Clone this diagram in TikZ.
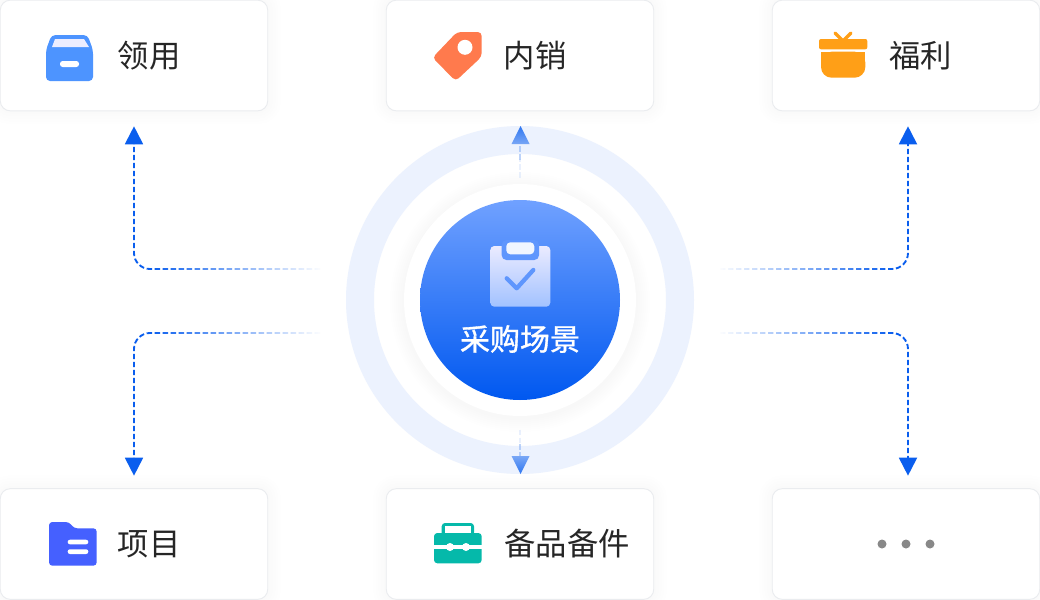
\documentclass[tikz,border=0pt]{standalone}
\usepackage{fontspec}
\setmainfont{Noto Sans CJK SC}
\usetikzlibrary{arrows.meta, fadings}
\definecolor{linkblue}{HTML}{0A5EEE}
\definecolor{ringblue}{HTML}{ECF2FE}
\definecolor{cardline}{HTML}{EAECEF}
\definecolor{labelgray}{HTML}{262626}
\definecolor{HubTop}{HTML}{70A1FF}
\definecolor{HubBot}{HTML}{0058F0}
\definecolor{HubClip}{HTML}{5F96FD}
\definecolor{IconBox}{HTML}{4D94FF}
\definecolor{IconTag}{HTML}{FF7A4D}
\definecolor{IconGift}{HTML}{FF9F17}
\definecolor{IconFolder}{HTML}{4560FF}
\definecolor{IconTool}{HTML}{05B9AA}
\definecolor{DotGray}{HTML}{888888}
\tikzfading[name=fadeleft, left color=transparent!100, right color=transparent!0]
\tikzfading[name=faderight, left color=transparent!0, right color=transparent!100]
\tikzset{softedge/.style = {preaction={draw=black,draw opacity=.005,line width=#1}}}
\tikzset{cardbox/.style = {rectangle, rounded corners=7.5pt, fill=white, draw=cardline, line width=.7pt,
  minimum width=200.6pt, minimum height=83pt, inner sep=0pt,
  softedge=4pt, softedge=8pt, softedge=12pt, softedge=16pt, softedge=20pt}}
\tikzset{cardtext/.style = {text=labelgray, font=\fontsize{23.5}{26}\selectfont, inner sep=0pt}}
\tikzset{linkline/.style = {linkblue, line width=1.4pt, dash pattern=on 4pt off 2pt, rounded corners=12pt,
  -{Triangle[width=13.5pt,length=13.5pt]}}}
\tikzset{hubdash/.style = {color=linkblue!45!white, line width=1.4pt, dash pattern=on 4pt off 2pt}}
\begin{document}
\begin{tikzpicture}[x=.75pt,y=-.75pt]
\useasboundingbox (0,0) rectangle (1040,600);
\fill[white] (0,0) rectangle (1040,600);

% ring and hub
\draw[ringblue, line width=21pt] (520,300) circle (160);
\foreach \r in {2,4,...,14}
  \fill[black, opacity=.002] (520,302) circle (116+\r);
\fill[white] (520,300) circle (116);
\node[circle, minimum size=150pt, inner sep=0pt, top color=HubTop, bottom color=HubBot] (hub) at (520,300) {};

% clipboard
\shade[top color=white!92!blue, bottom color=white!35!HubTop, rounded corners=3pt] (490.3,246) rectangle (550.3,306.7);
\fill[HubClip, rounded corners=3.5pt] (501.7,240) rectangle (539,260);
\fill[white!90!HubTop, rounded corners=3pt] (506.3,242.3) rectangle (534.3,254.3);
\draw[HubClip, line width=3.2pt, line cap=round, line join=round] (506.7,278.3) -- (516.7,288.3) -- (533.3,270);
\node[text=white, font=\fontsize{22.5}{26}\selectfont, inner sep=0pt] (hubtext) at (520,339) {\special{pdf:literal 0.25 w 2 Tr}采购场景\special{pdf:literal 0 Tr}};

% cards
\foreach \name/\x/\y in {lingyong/134/55.5, neixiao/520/55.5, fuli/906/55.5, xiangmu/134/544, beipin/520/544, more/906/544}
  \node[cardbox] (\name) at (\x,\y) {};

\node[cardtext] (lingyongtext) at (149,56) {领用};
\node[cardtext] (neixiaotext) at (535,56) {内销};
\node[cardtext] (fulitext) at (920.5,56) {福利};
\node[cardtext] (xiangmutext) at (149,544) {项目};
\node[cardtext] (beipintext) at (567,544) {备品备件};

% box icon
\fill[IconBox, rounded corners=3pt] (46,81) -- (46,50) -- (51.5,35) -- (87.5,35) -- (93,50) -- (93,81) -- cycle;
\fill[white!93!blue] (55,39) -- (84,39) -- (89,47) -- (52,47) -- cycle;
\fill[white, rounded corners=2pt] (60,61) rectangle (79,67);

% tag icon
\fill[IconTag, rounded corners=3pt] (481.7,32) -- (457,32) -- (432.5,57.7) -- (455.7,81) -- (481.7,56.7) -- cycle;
\fill[white] (465,47.3) circle (7.5);

% gift icon
\draw[IconGift, line width=2.4pt, line cap=round] (835,33) -- (843,41) -- (851,33);
\fill[IconGift, rounded corners=1.5pt] (819,39) rectangle (867.3,49.3);
\fill[IconGift, rounded corners=8pt] (821,51.7) -- (821,77.7) -- (865.3,77.7) -- (865.3,51.7) -- cycle;
\fill[IconGift] (821,51.7) rectangle (865.3,62);

% folder icon
\fill[IconFolder, rounded corners=2.5pt] (49,565.7) -- (49,522) -- (69,522) -- (74,528.3) -- (96.7,528.3) -- (96.7,565.7) -- cycle;
\fill[white, rounded corners=1.7pt] (67.7,539.7) rectangle (88.3,544.3);
\fill[white, rounded corners=1.7pt] (67.7,549.3) rectangle (88.3,554);

% toolbox icon
\fill[IconTool, rounded corners=2.5pt] (441.7,536) -- (441.7,523) -- (474,523) -- (474,536) -- cycle;
\fill[white] (445.3,526) rectangle (471,533);
\fill[IconTool, rounded corners=2.5pt] (434,533) rectangle (481.7,563.3);
\draw[white, line width=2.6pt] (434,547) -- (481.7,547);
\fill[white] (450,547) circle (4);
\fill[white] (466,547) circle (4);

% dots
\foreach \x in {882,906,930}
  \fill[DotGray] (\x,544) circle (4.5);

% side links
\coordinate (hubnw) at (320,269);
\coordinate (hubne) at (720,269);
\coordinate (hubsw) at (320,333);
\coordinate (hubse) at (720,333);
\draw[linkline, shorten >=11.25pt] (hubnw) -| (lingyong.south);
\draw[linkline, shorten >=11.25pt] (hubne) -| ([xshift=1.5pt]fuli.south);
\draw[linkline, shorten >=9.4pt] (hubsw) -| (xiangmu.north);
\draw[linkline, shorten >=9.4pt] (hubse) -| ([xshift=1.5pt]more.north);
\foreach \y in {269,333}
{
  \fill[white, path fading=fadeleft] (150,\y-3) rectangle (322,\y+3);
  \fill[white, path fading=faderight] (718,\y-3) rectangle (892,\y+3);
}

% short links
\draw[hubdash, opacity=.2, shorten <=16.5pt, shorten >=36pt] (hub.north) -- (neixiao.south);
\draw[hubdash, opacity=.6, shorten <=30pt, shorten >=25pt] (hub.north) -- (neixiao.south);
\draw[hubdash, opacity=.2, shorten <=22pt, shorten >=34pt] (hub.south) -- (beipin.north);
\draw[hubdash, opacity=.6, shorten <=33pt, shorten >=23pt] (hub.south) -- (beipin.north);
\shade[top color=linkblue!85!white, bottom color=linkblue!55!white] (520.5,126) -- (529.5,144) -- (511.5,144) -- cycle;
\shade[top color=linkblue!55!white, bottom color=linkblue!85!white] (520.5,474) -- (529.5,456) -- (511.5,456) -- cycle;
\end{tikzpicture}
\end{document}
